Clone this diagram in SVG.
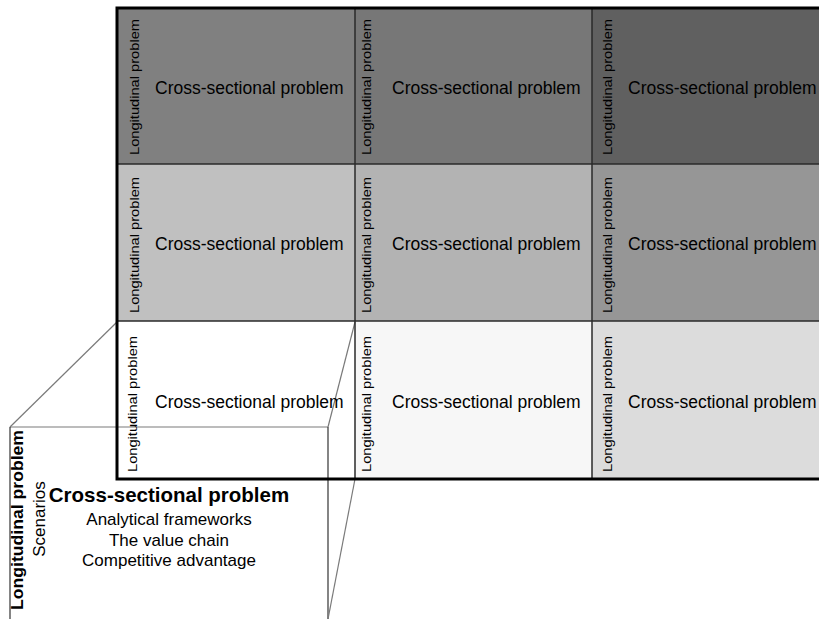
<svg xmlns="http://www.w3.org/2000/svg" width="819" height="619" viewBox="0 0 819 619">
<style>
.cell{stroke:none}
.grid{stroke:#2a2a2a;stroke-width:1.5;fill:none}
.border{stroke:#000;stroke-width:3;fill:none}
.cs{font-family:"Liberation Sans",Arial,sans-serif;font-size:17.5px;fill:#000}
.lg{font-family:"Liberation Sans",Arial,sans-serif;font-size:13.5px;fill:#000}
.conn-g{stroke:#7a7a7a;stroke-width:1.2;fill:none}
.conn-d{stroke:#333;stroke-width:1.2;fill:none}
.big{font-family:"Liberation Sans",Arial,sans-serif;font-weight:bold;fill:#000}
.sub{font-family:"Liberation Sans",Arial,sans-serif;font-size:17px;fill:#000}
</style>
<rect width="819" height="619" fill="#fff"/>
<g id="cells">
<rect class="cell" x="117" y="8" width="238" height="156" fill="#808080"/>
<rect class="cell" x="355" y="8" width="237" height="156" fill="#777777"/>
<rect class="cell" x="592" y="8" width="240" height="156" fill="#606060"/>
<rect class="cell" x="117" y="164" width="238" height="157" fill="#c0c0c0"/>
<rect class="cell" x="355" y="164" width="237" height="157" fill="#b3b3b3"/>
<rect class="cell" x="592" y="164" width="240" height="157" fill="#969696"/>
<rect class="cell" x="117" y="321" width="238" height="158" fill="#ffffff"/>
<rect class="cell" x="355" y="321" width="237" height="158" fill="#f7f7f7"/>
<rect class="cell" x="592" y="321" width="240" height="158" fill="#dcdcdc"/>
</g>
<g id="connectors">
<line class="conn-g" x1="117" y1="322" x2="10" y2="427"/>
<line class="conn-g" x1="355" y1="322" x2="328" y2="427"/>
<line class="conn-g" x1="10" y1="427" x2="328" y2="427"/>
<line class="conn-d" x1="10" y1="427" x2="10" y2="619"/>
<line class="conn-d" x1="328" y1="427" x2="328" y2="619"/>
<line class="conn-g" x1="355" y1="479" x2="328" y2="619"/>
</g>
<g id="gridlines">
<line class="grid" x1="117" y1="164" x2="819" y2="164"/>
<line class="grid" x1="117" y1="321" x2="819" y2="321"/>
<line class="grid" x1="355" y1="8" x2="355" y2="479"/>
<line class="grid" x1="592" y1="8" x2="592" y2="479"/>
<rect class="border" x="117" y="8" width="720" height="471"/>
</g>
<g id="r1c1">
<text class="lg" transform="translate(139,87) rotate(-90)" text-anchor="middle" textLength="136" lengthAdjust="spacingAndGlyphs">Longitudinal problem</text>
<text class="cs" x="155" y="94">Cross-sectional problem</text>
</g>
<g id="r1c2">
<text class="lg" transform="translate(371,87) rotate(-90)" text-anchor="middle" textLength="136" lengthAdjust="spacingAndGlyphs">Longitudinal problem</text>
<text class="cs" x="392" y="94">Cross-sectional problem</text>
</g>
<g id="r1c3">
<text class="lg" transform="translate(611.5,87) rotate(-90)" text-anchor="middle" textLength="136" lengthAdjust="spacingAndGlyphs">Longitudinal problem</text>
<text class="cs" x="628" y="94">Cross-sectional problem</text>
</g>
<g id="r2c1">
<text class="lg" transform="translate(139,245) rotate(-90)" text-anchor="middle" textLength="136" lengthAdjust="spacingAndGlyphs">Longitudinal problem</text>
<text class="cs" x="155" y="250">Cross-sectional problem</text>
</g>
<g id="r2c2">
<text class="lg" transform="translate(371,245) rotate(-90)" text-anchor="middle" textLength="136" lengthAdjust="spacingAndGlyphs">Longitudinal problem</text>
<text class="cs" x="392" y="250">Cross-sectional problem</text>
</g>
<g id="r2c3">
<text class="lg" transform="translate(611.5,245) rotate(-90)" text-anchor="middle" textLength="136" lengthAdjust="spacingAndGlyphs">Longitudinal problem</text>
<text class="cs" x="628" y="250">Cross-sectional problem</text>
</g>
<g id="r3c1">
<text class="lg" transform="translate(137,404) rotate(-90)" text-anchor="middle" textLength="136" lengthAdjust="spacingAndGlyphs">Longitudinal problem</text>
<text class="cs" x="155" y="408">Cross-sectional problem</text>
</g>
<g id="r3c2">
<text class="lg" transform="translate(371,404) rotate(-90)" text-anchor="middle" textLength="136" lengthAdjust="spacingAndGlyphs">Longitudinal problem</text>
<text class="cs" x="392" y="408">Cross-sectional problem</text>
</g>
<g id="r3c3">
<text class="lg" transform="translate(611.5,404) rotate(-90)" text-anchor="middle" textLength="136" lengthAdjust="spacingAndGlyphs">Longitudinal problem</text>
<text class="cs" x="628" y="408">Cross-sectional problem</text>
</g>
<g id="detail">
<text class="big" font-size="16" transform="translate(23,520) rotate(-90)" text-anchor="middle" textLength="180" lengthAdjust="spacingAndGlyphs">Longitudinal problem</text>
<text class="sub" font-size="15" transform="translate(45,519) rotate(-90)" text-anchor="middle">Scenarios</text>
<text class="big" font-size="20.5" x="169" y="502" text-anchor="middle">Cross-sectional problem</text>
<text class="sub" x="169" y="525" text-anchor="middle">Analytical frameworks</text>
<text class="sub" x="169" y="546" text-anchor="middle">The value chain</text>
<text class="sub" x="169" y="566" text-anchor="middle">Competitive advantage</text>
</g>
</svg>
